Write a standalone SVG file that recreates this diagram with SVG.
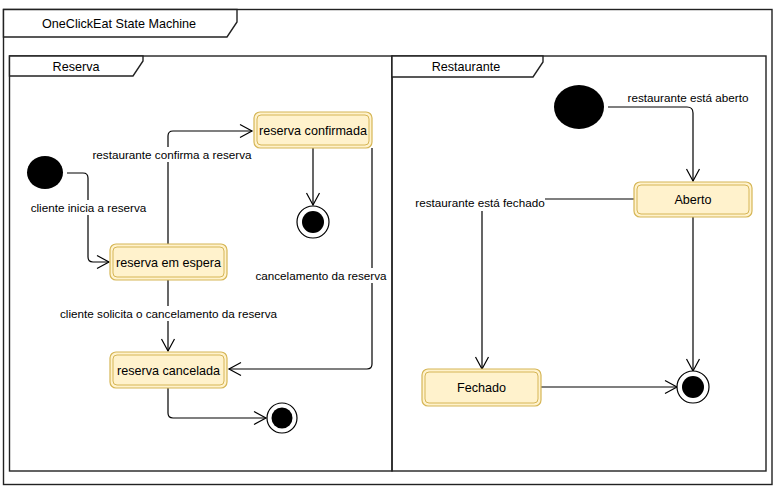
<svg xmlns="http://www.w3.org/2000/svg" width="776" height="493" viewBox="0 0 776 493">
<style>
.frame{fill:none;stroke:#222;stroke-width:1.4}
.tab{fill:#fff;stroke:#222;stroke-width:1.4}
.title{font-family:"Liberation Sans",Arial,sans-serif;font-size:12.6px;fill:#000;text-anchor:middle}
.st rect.o{fill:#fff2cc;stroke:#d6b656;stroke-width:1.2}
.st rect.i{fill:none;stroke:#d6b656;stroke-width:1}
.st text{font-family:"Liberation Sans",Arial,sans-serif;font-size:12.6px;fill:#000;text-anchor:middle}
.init{fill:#000}
.fo{fill:#fff;stroke:#000;stroke-width:1.2}
.fi{fill:#000}
.edge{fill:none;stroke:#000;stroke-width:1.2}
.lbl{font-family:"Liberation Sans",Arial,sans-serif;font-size:11.7px;fill:#000;text-anchor:middle}
.lbg{fill:#fff}
</style>
<defs>
<marker id="open" markerUnits="userSpaceOnUse" markerWidth="16" markerHeight="16" refX="13" refY="7" orient="auto" overflow="visible">
<path d="M1,0.5 L13,7 L1,13.5" fill="none" stroke="#000" stroke-width="1.2"/>
</marker>
</defs>
<rect width="776" height="493" fill="#fff"/>
<g id="frame-main">
<rect class="frame" x="3.5" y="9.5" width="768.5" height="475"/>
<path class="tab" d="M3.5,9.5 H237 V22 L227,37 H3.5 Z"/>
<text class="title" x="119" y="27.5">OneClickEat State Machine</text>
</g>
<g id="frame-reserva">
<rect class="frame" x="9.5" y="56" width="382.5" height="415"/>
<path class="tab" d="M9.5,56 H143 V61 L133,76 H9.5 Z"/>
<text class="title" x="76" y="71">Reserva</text>
</g>
<g id="frame-restaurante">
<rect class="frame" x="392" y="56" width="374" height="415"/>
<path class="tab" d="M392,56 H543 V62 L533,77 H392 Z"/>
<text class="title" x="466" y="71">Restaurante</text>
</g>
<g id="connectors">
<path class="edge" d="M67,173 H83 Q88,173 88,178 V257 Q88,262 93,262 H109" marker-end="url(#open)"/>
<path class="edge" d="M168,244 V136 Q168,131 173,131 H252" marker-end="url(#open)"/>
<path class="edge" d="M313,148 V205" marker-end="url(#open)"/>
<path class="edge" d="M372,148 V364 Q372,369 367,369 H229" marker-end="url(#open)"/>
<path class="edge" d="M168,280 V351" marker-end="url(#open)"/>
<path class="edge" d="M168,388 V413 Q168,418 173,418 H266" marker-end="url(#open)"/>
<path class="edge" d="M608,107 H687 Q693,107 693,113 V181" marker-end="url(#open)"/>
<path class="edge" d="M634,199 H482 V369" marker-end="url(#open)"/>
<path class="edge" d="M693,217 V371" marker-end="url(#open)"/>
<path class="edge" d="M541,387 H677" marker-end="url(#open)"/>
<rect class="lbg" x="30" y="200" width="117" height="15"/>
<text class="lbl" x="88.5" y="211.5">cliente inicia a reserva</text>
<rect class="lbg" x="92" y="147" width="160" height="15"/>
<text class="lbl" x="172" y="158.5">restaurante confirma a reserva</text>
<rect class="lbg" x="255" y="268" width="132" height="15"/>
<text class="lbl" x="321" y="279.5">cancelamento da reserva</text>
<rect class="lbg" x="59" y="306" width="219" height="15"/>
<text class="lbl" x="168.5" y="317.5">cliente solicita o cancelamento da reserva</text>
<rect class="lbg" x="626" y="90" width="123" height="15"/>
<text class="lbl" x="688" y="101.5">restaurante está aberto</text>
<rect class="lbg" x="414" y="196" width="131" height="15"/>
<text class="lbl" x="480" y="207">restaurante está fechado</text>
</g>
<g id="init-reserva"><ellipse class="init" cx="45" cy="172.5" rx="18" ry="16.5"/></g>
<g id="reserva-em-espera" class="st">
<rect class="o" x="110" y="244" width="117" height="36" rx="6"/>
<rect class="i" x="113" y="247" width="111" height="30" rx="4"/>
<text x="168.5" y="266.5">reserva em espera</text>
</g>
<g id="reserva-confirmada" class="st">
<rect class="o" x="254" y="112" width="118" height="36" rx="6"/>
<rect class="i" x="257" y="115" width="112" height="30" rx="4"/>
<text x="313" y="134.5">reserva confirmada</text>
</g>
<g id="reserva-cancelada" class="st">
<rect class="o" x="110" y="352" width="117" height="36" rx="6"/>
<rect class="i" x="113" y="355" width="111" height="30" rx="4"/>
<text x="168.5" y="374.5">reserva cancelada</text>
</g>
<g id="final-confirmada"><circle class="fo" cx="313" cy="222" r="16"/><circle class="fi" cx="313" cy="222" r="11"/></g>
<g id="final-cancelada"><circle class="fo" cx="282" cy="418" r="15"/><circle class="fi" cx="282" cy="418" r="10.5"/></g>
<g id="init-restaurante"><ellipse class="init" cx="579" cy="107" rx="25" ry="22"/></g>
<g id="aberto" class="st">
<rect class="o" x="634" y="182" width="118" height="35" rx="6"/>
<rect class="i" x="637" y="185" width="112" height="29" rx="4"/>
<text x="693" y="204">Aberto</text>
</g>
<g id="fechado" class="st">
<rect class="o" x="422" y="369" width="119" height="37" rx="6"/>
<rect class="i" x="425" y="372" width="113" height="31" rx="4"/>
<text x="481.5" y="392">Fechado</text>
</g>
<g id="final-restaurante"><circle class="fo" cx="693" cy="387" r="16"/><circle class="fi" cx="693" cy="387" r="11"/></g>
</svg>
